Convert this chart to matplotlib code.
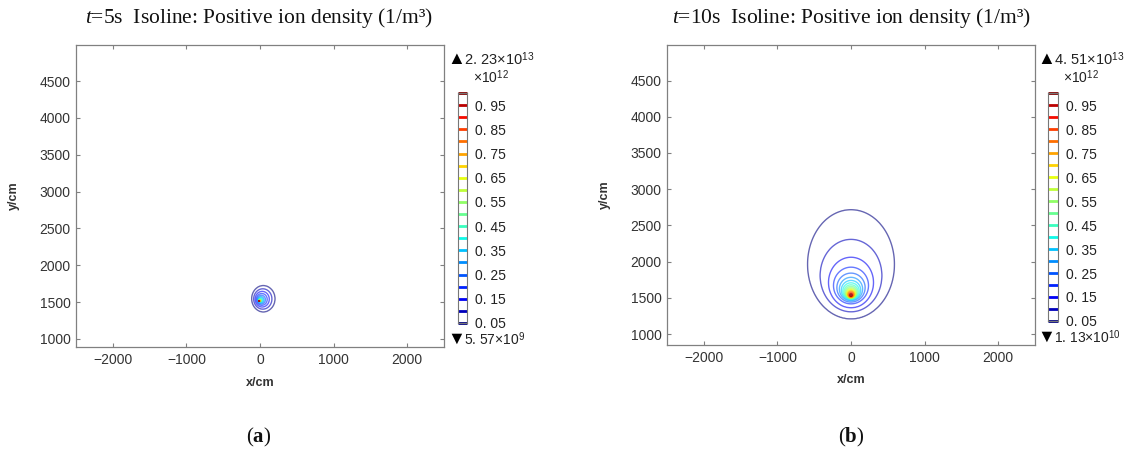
import numpy as np
import matplotlib.pyplot as plt
from matplotlib.colors import Normalize

plt.rcParams['font.family'] = ['Liberation Sans', 'DejaVu Sans']
plt.rcParams['mathtext.fontset'] = 'custom'
plt.rcParams['mathtext.rm'] = 'Liberation Sans'
plt.rcParams['mathtext.it'] = 'Liberation Serif:italic'
plt.rcParams['mathtext.bf'] = 'Liberation Serif:bold'

# contour levels (x10^12 1/m^3) and colorbar labels
levels = np.array([0.05, 0.10, 0.15, 0.20, 0.25, 0.30, 0.35, 0.40, 0.45, 0.50,
                   0.55, 0.60, 0.65, 0.70, 0.75, 0.80, 0.85, 0.90, 0.95, 1.00])
cbar_ticks = [0.05, 0.15, 0.25, 0.35, 0.45, 0.55, 0.65, 0.75, 0.85, 0.95]
cbar_labels = ["0. 05", "0. 15", "0. 25", "0. 35", "0. 45",
               "0. 55", "0. 65", "0. 75", "0. 85", "0. 95"]
xticks = [-2000, -1000, 0, 1000, 2000]
yticks = [1000, 1500, 2000, 2500, 3000, 3500, 4000, 4500]

# t = 5 s : isolines (centre and semi axes, cm)
t5_cx = np.array([45, 38, 30, 24, 18, 13, 9, 6, 3, 1, 0, -2, -4, -6, -8, -10, -11, -12, -13, -14])
t5_cy = np.array([1545, 1542, 1539, 1536, 1533, 1530, 1528, 1526, 1524, 1522,
                  1521, 1520, 1519, 1518, 1517, 1516, 1515, 1515, 1514, 1514])
t5_ax = np.array([158, 124, 96, 74, 56, 42, 32, 24, 18, 14, 11, 9, 7.5, 6, 5, 4.2, 3.5, 3, 2.5, 2])
t5_ay = np.array([178, 138, 106, 80, 60, 45, 34, 25, 19, 15, 12, 9.5, 8, 6.5, 5.4, 4.5, 3.8, 3.2, 2.7, 2.2])
t5_max, t5_min = 22.3, 0.00557

# t = 10 s
t10_cx = np.zeros(20)
t10_cy = np.array([1965, 1808, 1712, 1671, 1642, 1622, 1606, 1594, 1584, 1576,
                   1569, 1563, 1558, 1554, 1550, 1547, 1544, 1541, 1539, 1537])
t10_ax = np.array([590, 420, 306, 238, 192, 158, 132, 112, 96, 83, 72, 63, 55, 48, 42, 35, 26, 20, 15, 11])
t10_ay = np.array([753, 500, 349, 253, 200, 162, 135, 114, 97, 84, 73, 64, 56, 49, 43, 36, 27, 21, 16, 12])
t10_max, t10_min = 45.1, 0.0113


def ring_field(X, Y, cx, cy, ax_, ay_, lev, peak):
    # field whose isoline at lev[k] is the k-th ellipse
    n = len(lev)

    def q(k):
        return np.hypot((X - cx[k]) / ax_[k], (Y - cy[k]) / ay_[k])

    n_in = np.zeros(X.shape, dtype=int)
    for k in range(n):
        n_in += (q(k) < 1)
    i = np.clip(n_in - 1, 0, n - 1)
    j = np.clip(n_in, 0, n - 1)
    qi, qj = q(i), q(j)
    with np.errstate(divide='ignore', invalid='ignore'):
        F = lev[i] + (lev[j] - lev[i]) * (1 - qi) / (qj - qi)
        F = np.where(n_in == 0, lev[0] / q(np.zeros_like(i)) ** 2, F)
    F = np.where(n_in == n, lev[-1] + (peak - lev[-1]) * (1 - qj), F)
    return F


xg = np.union1d(np.linspace(-2500, 2500, 501), np.linspace(-160, 160, 321))
yg = np.union1d(np.linspace(850, 4990, 415), np.linspace(1380, 1700, 321))
X, Y = np.meshgrid(xg, yg)

norm = Normalize(0.05, 1.0)
cmap = plt.cm.jet

fig = plt.figure(figsize=(11.35, 4.51), dpi=100)
W, H = 1135.0, 451.0

panels = [
    dict(rect=[76, 45, 444, 347], ylim=(890, 4990), cbar=[458, 93, 467, 323],
         data=(t5_cx, t5_cy, t5_ax, t5_ay, t5_max), vmax="2. 23", vmin="5. 57", emin="9",
         title="5s", tag="a", tx=259),
    dict(rect=[667, 45, 1035, 345], ylim=(850, 4990), cbar=[1048, 93, 1058, 321],
         data=(t10_cx, t10_cy, t10_ax, t10_ay, t10_max), vmax="4. 51", vmin="1. 13", emin="10",
         title="10s", tag="b", tx=851),
]

for p in panels:
    x0, y0, x1, y1 = p['rect']
    ax = fig.add_axes([x0 / W, 1 - y1 / H, (x1 - x0) / W, (y1 - y0) / H])
    cx, cy, a_x, a_y, peak = p['data']
    F = ring_field(X, Y, cx, cy, a_x, a_y, levels, peak)
    ax.contour(xg, yg, F, levels=levels, cmap=cmap, norm=norm, linewidths=1.0, alpha=0.6)
    ax.set_xlim(-2500, 2500)
    ax.set_ylim(*p['ylim'])
    ax.set_xticks(xticks)
    ax.set_yticks(yticks)
    ax.tick_params(direction='in', length=3, width=0.8, top=True, right=True,
                   labelsize=10, labelcolor='#333333', color='#808080', pad=4)
    for s in ax.spines.values():
        s.set_color('#808080')
        s.set_linewidth(0.9)
    ax.set_xlabel("x/cm", fontsize=9, fontweight='bold', color='#333333')
    ax.set_ylabel("y/cm", fontsize=9, fontweight='bold', color='#333333')
    ax.xaxis.set_label_coords(0.5, -0.098)
    ax.yaxis.set_label_coords(-0.152, 0.5)

    # colorbar of isoline colours
    c0, c1, c2, c3 = p['cbar']
    cax = fig.add_axes([c0 / W, 1 - c3 / H, (c2 - c0) / W, (c3 - c1) / H])
    cax.set_xlim(0, 1)
    cax.set_ylim(0.05, 1.0)
    cax.hlines(levels, 0, 1, colors=cmap(norm(levels)), lw=2, clip_on=False)
    cax.set_xticks([])
    cax.yaxis.tick_right()
    cax.set_yticks(cbar_ticks, cbar_labels)
    cax.tick_params(length=0, pad=6, labelsize=10, labelcolor='#222222')
    for s in cax.spines.values():
        s.set_color('#777777')
        s.set_linewidth(0.8)

    # max / min markers and multiplier
    fig.text((c0 - 2) / W, 1 - 60 / H, "\u25B2", fontsize=13, va='center', ha='center', color='black')
    fig.text((c0 + 6) / W, 1 - 59 / H, p['vmax'] + "\u00D710$^{13}$",
             fontsize=10.5, va='center', ha='left', color='#222222')
    fig.text((c0 + 15) / W, 1 - 77 / H, "\u00D710$^{12}$",
             fontsize=10, va='center', ha='left', color='#222222')
    fig.text((c0 - 2) / W, 1 - (c3 + 16) / H, "\u25BC", fontsize=13, va='center', ha='center', color='black')
    fig.text((c0 + 6) / W, 1 - (c3 + 16) / H, p['vmin'] + "\u00D710$^{" + p['emin'] + "}$",
             fontsize=10, va='center', ha='left', color='#222222')

    fig.text(p['tx'] / W, 1 - 18 / H, "$t$=" + p['title'] + "  Isoline: Positive ion density (1/m\u00B3)",
             fontsize=15.5, family='Liberation Serif', ha='center', va='center', color='#111111')
    fig.text(p['tx'] / W, 1 - 437 / H, "($\\mathbf{" + p['tag'] + "}$)",
             fontsize=15, family='Liberation Serif', ha='center', va='center', color='#111111')

fig.savefig("out.png", dpi=100)
